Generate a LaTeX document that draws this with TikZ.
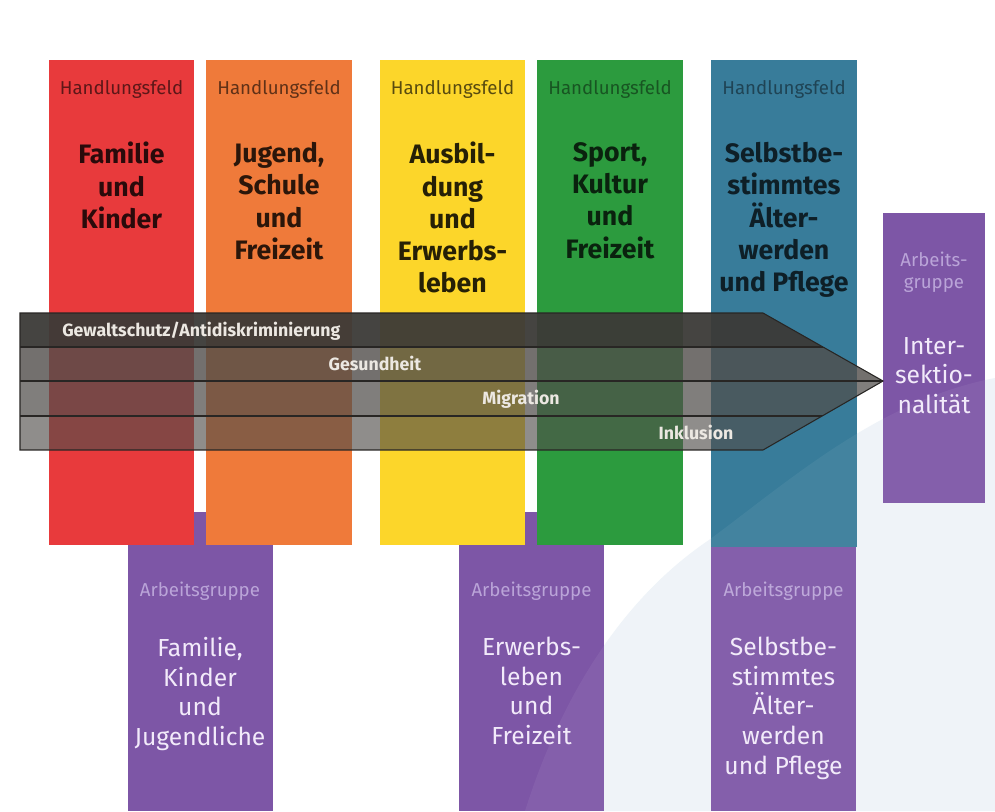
\documentclass[tikz,border=0pt]{standalone}
\usepackage{fontspec}
\setmainfont{Fira Sans}
\usetikzlibrary{fit}
\definecolor{cred}{RGB}{232,58,60}
\definecolor{corange}{RGB}{239,122,58}
\definecolor{cyellow}{RGB}{252,214,42}
\definecolor{cgreen}{RGB}{44,155,62}
\definecolor{cblue}{RGB}{56,124,154}
\definecolor{cpurple}{RGB}{125,86,166}
\definecolor{agtext}{RGB}{186,164,216}
\definecolor{lighttext}{RGB}{242,234,250}
\definecolor{swooshc}{RGB}{238,243,248}
\definecolor{arrowdark}{RGB}{60,58,55}
\definecolor{arrowgray}{RGB}{80,77,74}
\definecolor{arrowline}{RGB}{40,38,36}
\definecolor{arrowtext}{RGB}{236,232,226}
\begin{document}
\begin{tikzpicture}[x=0.75pt,y=-0.75pt,
  box/.style={inner sep=0pt, draw=none},
  hf/.style={anchor=base, inner sep=0pt, font=\fontsize{14}{16}\selectfont},
  hftitle/.style={anchor=north, align=center, inner sep=0pt, font=\bfseries\fontsize{20}{24.2}\selectfont},
  ag/.style={anchor=base, inner sep=0pt, align=center, text=agtext, font=\fontsize{14}{16.5}\selectfont},
  agtitle/.style={anchor=north, align=center, inner sep=0pt, text=lighttext, font=\fontsize{18.5}{22.2}\selectfont},
  bandlabel/.style={anchor=base, inner sep=0pt, text=arrowtext, font=\bfseries\fontsize{13.3}{15}\selectfont}]
\useasboundingbox (0,0) rectangle (995,811);
\fill[white] (0,0) rectangle (995,811);
% background swoosh
\fill[swooshc] (525,811) .. controls (560,700) and (620,600) .. (709,540)
  .. controls (790,480) and (880,400) .. (995,378) -- (995,811) -- cycle;

% Arbeitsgruppe boxes (behind)
\node[box, fill=cpurple, fit={(128,512) (273,811)}] (ag1) {};
\node[box, fill=cpurple, fit={(459,512) (604,811)}] (ag2) {};
\node[box, fill=cpurple, fit={(711,540) (856,811)}] (ag3) {};

% Handlungsfeld columns
\node[box, fill=cred,    fit={(49,60) (194,545)}]  (hf1) {};
\node[box, fill=corange, fit={(206,60) (352,545)}] (hf2) {};
\node[box, fill=cyellow, fit={(380,60) (525,545)}] (hf3) {};
\node[box, fill=cgreen,  fit={(537,60) (683,545)}] (hf4) {};
\node[box, fill=cblue,   fit={(711,60) (857,547)}] (hf5) {};

% right Arbeitsgruppe
\node[box, fill=cpurple, fit={(883,213) (985,503)}] (ag4) {};

% Handlungsfeld labels
\node[hf, text=cred!40!black]    (hfl1) at (121.5,94) {Handlungsfeld};
\node[hf, text=corange!40!black] (hfl2) at (279,94)   {Handlungsfeld};
\node[hf, text=cyellow!35!black] (hfl3) at (452.5,94) {Handlungsfeld};
\node[hf, text=cgreen!55!black]  (hfl4) at (610,94)   {Handlungsfeld};
\node[hf, text=cblue!55!black]   (hfl5) at (784,94)   {Handlungsfeld};

% titles
\node[hftitle, text=cred!18!black]    (hft1) at (121.5,142) {Familie\\und\\Kinder};
\node[hftitle, text=corange!18!black] (hft2) at (279,142)   {Jugend,\\Schule\\und\\Freizeit};
\node[hftitle, text=cyellow!15!black] (hft3) at (452.5,142) {Ausbil-\\dung\\und\\Erwerbs-\\leben};
\node[hftitle, text=cgreen!22!black]  (hft4) at (610,142)   {Sport,\\Kultur\\und\\Freizeit};
\node[hftitle, text=cblue!25!black]   (hft5) at (784,142)   {Selbstbe-\\stimmtes\\Älter-\\werden\\und Pflege};

% cross-cutting arrow
\begin{scope}
  \clip (20,313) -- (763,313) -- (883,381) -- (763,450) -- (20,450) -- cycle;
  \fill[arrowdark, opacity=0.95] (0,313) rectangle (900,347);
  \fill[arrowgray, opacity=0.80] (0,347) rectangle (900,381);
  \fill[arrowgray, opacity=0.72] (0,381) rectangle (900,416);
  \fill[arrowgray, opacity=0.64] (0,416) rectangle (900,450);
  \draw[arrowline, line width=1.1pt] (0,347) -- (900,347);
  \draw[arrowline, line width=1.1pt] (0,381) -- (900,381);
  \draw[arrowline, line width=1.1pt] (0,416) -- (900,416);
\end{scope}
\draw[arrowline, line width=0.8pt] (20,313) -- (763,313) -- (883,381) -- (763,450) -- (20,450) -- cycle;

\node[bandlabel, anchor=base west] (b1) at (62,336) {Gewaltschutz/Antidiskriminierung};
\node[bandlabel] (b2) at (375,370) {Gesundheit};
\node[bandlabel] (b3) at (521,404) {Migration};
\node[bandlabel] (b4) at (696,439) {Inklusion};

% Arbeitsgruppe labels
\node[ag] (agl1) at (200,596)   {Arbeitsgruppe};
\node[ag] (agl2) at (531.5,596) {Arbeitsgruppe};
\node[ag] (agl3) at (783.5,596) {Arbeitsgruppe};
\node[ag, anchor=north] (agl4) at (934,252) {Arbeits-\\gruppe};

\node[agtitle] (agt1) at (200,637)   {Familie,\\Kinder\\und\\Jugendliche};
\node[agtitle] (agt2) at (531.5,637) {Erwerbs-\\leben\\und\\Freizeit};
\node[agtitle] (agt3) at (783.5,637) {Selbstbe-\\stimmtes\\Älter-\\werden\\und Pflege};
\node[agtitle] (agt4) at (934,337)   {Inter-\\sektio-\\nalität};

% faint swoosh overlay
\fill[white, opacity=0.06] (525,811) .. controls (560,700) and (620,600) .. (709,540)
  .. controls (790,480) and (880,400) .. (995,378) -- (995,811) -- cycle;
\end{tikzpicture}
\end{document}
